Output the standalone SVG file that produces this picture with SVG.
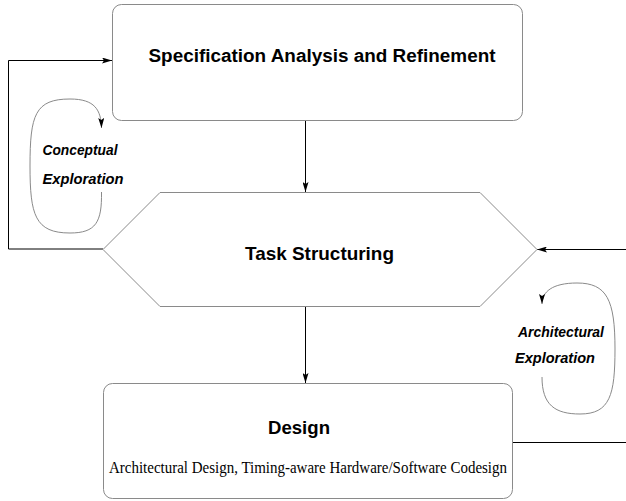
<svg xmlns="http://www.w3.org/2000/svg" width="626" height="501" viewBox="0 0 626 501">
  <style>
    .box { fill: #fff; stroke: #8a8a8a; stroke-width: 1; }
    .wire { fill: none; stroke: #000; stroke-width: 1; }
    .loop { fill: none; stroke: #8a8a8a; stroke-width: 1; }
    .title { font-family: "Liberation Sans", Arial, sans-serif; font-weight: bold; fill: #000; text-anchor: middle; }
    .note { font-family: "Liberation Sans", Arial, sans-serif; font-weight: bold; font-style: italic; font-size: 15px; fill: #000; text-anchor: middle; }
    .sub { font-family: "Liberation Serif", "Times New Roman", serif; font-size: 16px; fill: #000; text-anchor: middle; }
  </style>
  <defs>
    <marker id="arrow" viewBox="0 0 10 6" refX="10" refY="3" markerWidth="10" markerHeight="6" markerUnits="userSpaceOnUse" orient="auto">
      <path d="M0,0 L10,3 L0,6 L2,3 Z" fill="#000"/>
    </marker>
  </defs>
  <rect width="626" height="501" fill="#fff"/>

  <g id="connectors">
    <line class="wire" x1="305.5" y1="121" x2="305.5" y2="192" marker-end="url(#arrow)"/>
    <line class="wire" x1="305.5" y1="307" x2="305.5" y2="383" marker-end="url(#arrow)"/>
    <polyline class="wire" points="103,249 8.5,249 8.5,60.5 112,60.5" marker-end="url(#arrow)"/>
    <line class="wire" x1="626" y1="249.5" x2="537" y2="249.5" marker-end="url(#arrow)"/>
    <line class="wire" x1="513" y1="442.5" x2="626" y2="442.5"/>
  </g>

  <g id="conceptual-exploration">
    <path class="loop" d="M101.5,192 C102,222 96,233 70,233 C35,233 30,215 30,166 C30,115 35,99 70,99 C95,99 101,110 101.5,128" marker-end="url(#arrow)"/>
    <text class="note" x="80" y="155" textLength="75" lengthAdjust="spacingAndGlyphs">Conceptual</text>
    <text class="note" x="83" y="184" textLength="81" lengthAdjust="spacingAndGlyphs">Exploration</text>
  </g>

  <g id="architectural-exploration">
    <path class="loop" d="M542,377 C542,405 555,414 580,414 C610,414 615,395 615,349 C615,300 607,283 577,283 C552,283 542,292 542,304" marker-end="url(#arrow)"/>
    <text class="note" x="561" y="337" textLength="86" lengthAdjust="spacingAndGlyphs">Architectural</text>
    <text class="note" x="555" y="363" textLength="80" lengthAdjust="spacingAndGlyphs">Exploration</text>
  </g>

  <g id="spec-analysis">
    <rect class="box" x="112.5" y="4.5" width="410" height="116" rx="9"/>
    <text class="title" x="322" y="62" font-size="18" textLength="347" lengthAdjust="spacingAndGlyphs">Specification Analysis and Refinement</text>
  </g>

  <g id="task-structuring">
    <polygon class="box" points="160,192.5 480,192.5 537,249.5 480,306.5 160,306.5 103,249.5"/>
    <text class="title" x="319.5" y="260" font-size="19" textLength="149" lengthAdjust="spacingAndGlyphs">Task Structuring</text>
  </g>

  <g id="design">
    <rect class="box" x="103.5" y="383.5" width="409" height="115" rx="9"/>
    <text class="title" x="299" y="434" font-size="19" textLength="62" lengthAdjust="spacingAndGlyphs">Design</text>
    <text class="sub" x="308" y="473" textLength="398" lengthAdjust="spacingAndGlyphs">Architectural Design, Timing-aware Hardware/Software Codesign</text>
  </g>
</svg>
